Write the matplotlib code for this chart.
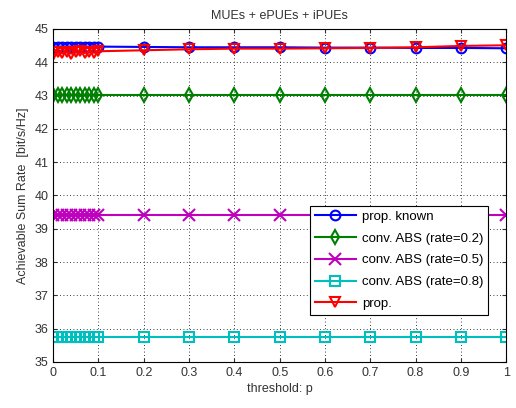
#!/usr/bin/env python3
"""Achievable sum rate vs threshold p (MUEs + ePUEs + iPUEs)."""

import matplotlib
matplotlib.use("Agg")
import matplotlib.pyplot as plt
import numpy as np

plt.rcParams["font.family"] = ["Liberation Sans", "DejaVu Sans"]

# threshold values: dense sweep up to 0.1, then coarse steps
p = [0.0, 0.01, 0.02, 0.03, 0.04, 0.05, 0.06, 0.07, 0.08, 0.09, 0.1,
     0.2, 0.3, 0.4, 0.5, 0.6, 0.7, 0.8, 0.9, 1.0]

prop_known = [44.47, 44.47, 44.47, 44.47, 44.47, 44.47, 44.47, 44.47, 44.47, 44.47, 44.47,
              44.46, 44.45, 44.45, 44.45, 44.44, 44.44, 44.43, 44.43, 44.42]
abs_02 = [43.03] * 20
abs_05 = [39.41] * 20
abs_08 = [35.74] * 20
prop = [44.22, 44.30, 44.27, 44.32, 44.26, 44.30, 44.33, 44.28, 44.31, 44.29, 44.33,
        44.36, 44.39, 44.41, 44.41, 44.42, 44.43, 44.45, 44.49, 44.51]

series = [
    ("prop. known", prop_known, "#0000ff", "o"),
    ("conv. ABS (rate=0.2)", abs_02, "#008000", "d"),
    ("conv. ABS (rate=0.5)", abs_05, "#bf00bf", "x"),
    ("conv. ABS (rate=0.8)", abs_08, "#00bfbf", "s"),
    ("prop.", prop, "#ff0000", "v"),
]

fig = plt.figure(figsize=(5.16, 4.08), dpi=100, facecolor="white")
ax = fig.add_axes([0.103, 0.113, 0.878, 0.816])

for name, vals, color, marker in series:
    ax.plot(p, vals, color=color, marker=marker, markersize=7 if marker != "x" else 9,
            markerfacecolor="none", markeredgewidth=1.5, linewidth=1.5, label=name)

ax.set_xlim(0, 1)
ax.set_ylim(35, 45)
ax.set_xticks(np.arange(0, 1.01, 0.1))
ax.set_xticklabels(["0", "0.1", "0.2", "0.3", "0.4", "0.5", "0.6", "0.7", "0.8", "0.9", "1"])
ax.set_yticks(range(35, 46))
ax.tick_params(direction="in", labelsize=9, colors="#333333", top=True, right=True, length=3)
ax.grid(True, color="black", linestyle=(0, (1, 3)), linewidth=0.6)

ax.set_title("MUEs + ePUEs + iPUEs", fontsize=9, color="#333333", pad=7)
ax.set_xlabel("threshold: p", fontsize=9, color="#333333", labelpad=3)
ax.set_ylabel("Achievable Sum Rate  [bit/s/Hz]", fontsize=9, color="#333333", labelpad=4)

leg = ax.legend(loc="upper left", bbox_to_anchor=(0.567, 0.468), fontsize=9.5,
                handlelength=3.1, fancybox=False, framealpha=1, edgecolor="black",
                borderpad=0.35, labelspacing=0.72, handletextpad=0.5, borderaxespad=0)
leg.get_frame().set_linewidth(0.8)

fig.savefig("out.png", dpi=100, facecolor="white")
